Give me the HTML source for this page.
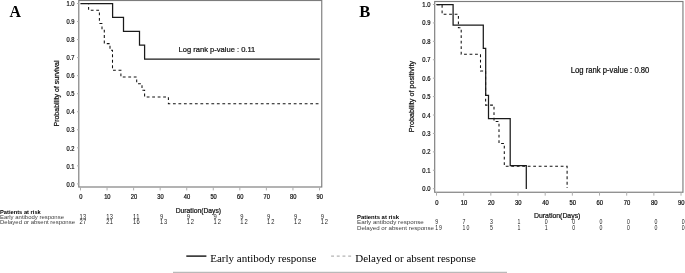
<!DOCTYPE html>
<html lang="en"><head><meta charset="utf-8"><title>Kaplan-Meier curves</title>
<style>
html,body{margin:0;padding:0;background:#fff;}
body{width:685px;height:273px;overflow:hidden;}
svg{display:block;}
.sans{font-family:"Liberation Sans",Arial,Helvetica,sans-serif;fill:#111;stroke:#111;stroke-width:0.22;}
.serif{font-family:"Liberation Serif","Times New Roman",Times,serif;fill:#000;}
.tick{font-size:6.4px;}
.risk{font-size:5.1px;fill:#3c3c3c;stroke:none;}
.num{fill:#222;stroke:none;}
.rh{font-size:5.8px;fill:#000;stroke:none;font-weight:bold;}
.frame{fill:none;stroke:#7c7c7c;stroke-width:1.15;}
.tk{stroke:#aeaeae;stroke-width:1;fill:none;}
.solid{fill:none;stroke:#1a1a1a;stroke-width:1.25;stroke-linejoin:miter;}
.dash{fill:none;stroke:#111;stroke-width:1.05;stroke-dasharray:2.8 2.69;}
</style></head><body>
<svg width="685" height="273" viewBox="0 0 685 273">
<rect x="0" y="0" width="685" height="273" fill="#fff"/>
<g id="panelA">
<text class="serif" font-size="17.7" font-weight="bold" transform="translate(9.4 16.7) scale(0.9 1)">A</text>
<rect class="frame" x="78.8" y="0.5" width="242.95" height="186.5"/>
<path class="tk" d="M77,183.9H78.8M77,165.86H78.8M77,147.82H78.8M77,129.78H78.8M77,111.74H78.8M77,93.7H78.8M77,75.66H78.8M77,57.62H78.8M77,39.58H78.8M77,21.54H78.8M77,3.5H78.8M80.5,187.0V190.4M107.06,187.0V190.4M133.61,187.0V190.4M160.17,187.0V190.4M186.72,187.0V190.4M213.28,187.0V190.4M239.84,187.0V190.4M266.39,187.0V190.4M292.95,187.0V190.4M319.5,187.0V190.4"/>
<text class="sans" font-size="6.4" text-anchor="end" transform="translate(74.5 186.6) scale(0.9 1)">0.0</text>
<text class="sans" font-size="6.4" text-anchor="end" transform="translate(74.5 168.56) scale(0.9 1)">0.1</text>
<text class="sans" font-size="6.4" text-anchor="end" transform="translate(74.5 150.52) scale(0.9 1)">0.2</text>
<text class="sans" font-size="6.4" text-anchor="end" transform="translate(74.5 132.48) scale(0.9 1)">0.3</text>
<text class="sans" font-size="6.4" text-anchor="end" transform="translate(74.5 114.44) scale(0.9 1)">0.4</text>
<text class="sans" font-size="6.4" text-anchor="end" transform="translate(74.5 96.4) scale(0.9 1)">0.5</text>
<text class="sans" font-size="6.4" text-anchor="end" transform="translate(74.5 78.36) scale(0.9 1)">0.6</text>
<text class="sans" font-size="6.4" text-anchor="end" transform="translate(74.5 60.32) scale(0.9 1)">0.7</text>
<text class="sans" font-size="6.4" text-anchor="end" transform="translate(74.5 42.28) scale(0.9 1)">0.8</text>
<text class="sans" font-size="6.4" text-anchor="end" transform="translate(74.5 24.24) scale(0.9 1)">0.9</text>
<text class="sans" font-size="6.4" text-anchor="end" transform="translate(74.5 6.2) scale(0.9 1)">1.0</text>
<text class="sans" font-size="6.4" text-anchor="middle" transform="translate(80.8 199.3) scale(0.9 1)">0</text>
<text class="sans" font-size="6.4" text-anchor="middle" transform="translate(107.36 199.3) scale(0.9 1)">10</text>
<text class="sans" font-size="6.4" text-anchor="middle" transform="translate(133.91 199.3) scale(0.9 1)">20</text>
<text class="sans" font-size="6.4" text-anchor="middle" transform="translate(160.47 199.3) scale(0.9 1)">30</text>
<text class="sans" font-size="6.4" text-anchor="middle" transform="translate(187.02 199.3) scale(0.9 1)">40</text>
<text class="sans" font-size="6.4" text-anchor="middle" transform="translate(213.58 199.3) scale(0.9 1)">50</text>
<text class="sans" font-size="6.4" text-anchor="middle" transform="translate(240.14 199.3) scale(0.9 1)">60</text>
<text class="sans" font-size="6.4" text-anchor="middle" transform="translate(266.69 199.3) scale(0.9 1)">70</text>
<text class="sans" font-size="6.4" text-anchor="middle" transform="translate(293.25 199.3) scale(0.9 1)">80</text>
<text class="sans" font-size="6.4" text-anchor="middle" transform="translate(319.8 199.3) scale(0.9 1)">90</text>
<text class="sans" font-size="6.8" text-anchor="middle" transform="translate(59.1 93.5) rotate(-90) scale(1.03 1)">Probability of survival</text>
<text class="sans" font-size="7.8" transform="translate(178.6 52.3) scale(0.97 1)">Log rank p-value : 0.11</text>
<text class="sans" font-size="7.2" transform="translate(175.7 212.9) scale(0.94 1)">Duration(Days)</text>
<path class="dash" d="M81,3.5H88.6V10.2H99.4V23.5H102V30.2H104.3V43.6H110V50.3H112.5V70.3H120.9V77H136.7V83.7H142V90.3H144.6V97H168.4V103.7H319.8"/>
<path class="solid" d="M80.4,3.6H112.6V17.4H123.5V31.3H139.5V45.1H144.6V59H319.8"/>
<text class="sans rh" x="0" y="213.9" textLength="40.8" lengthAdjust="spacingAndGlyphs">Patients at risk</text>
<text class="sans risk" x="0" y="218.7" textLength="64" lengthAdjust="spacingAndGlyphs">Early antibody response</text>
<text class="sans risk" x="0" y="223.8" textLength="75" lengthAdjust="spacingAndGlyphs">Delayed or absent response</text>
<text class="sans num" font-size="6.8" transform="translate(79.5 219.1) scale(0.85 1)" letter-spacing="0.3">13</text>
<text class="sans num" font-size="6.8" transform="translate(79.5 224) scale(0.85 1)" letter-spacing="0.3">27</text>
<text class="sans num" font-size="6.8" transform="translate(106.3 219.1) scale(0.85 1)" letter-spacing="0.3">13</text>
<text class="sans num" font-size="6.8" transform="translate(106.3 224) scale(0.85 1)" letter-spacing="0.3">21</text>
<text class="sans num" font-size="6.8" transform="translate(133.1 219.1) scale(0.85 1)" letter-spacing="0.3">11</text>
<text class="sans num" font-size="6.8" transform="translate(133.1 224) scale(0.85 1)" letter-spacing="0.3">16</text>
<text class="sans num" font-size="6.8" transform="translate(159.9 219.1) scale(0.85 1)">9</text>
<text class="sans num" font-size="6.8" transform="translate(159.9 224) scale(0.85 1)" letter-spacing="1.1">13</text>
<text class="sans num" font-size="6.8" transform="translate(186.7 219.1) scale(0.85 1)">9</text>
<text class="sans num" font-size="6.8" transform="translate(186.7 224) scale(0.85 1)" letter-spacing="1.1">12</text>
<text class="sans num" font-size="6.8" transform="translate(213.5 219.1) scale(0.85 1)">9</text>
<text class="sans num" font-size="6.8" transform="translate(213.5 224) scale(0.85 1)" letter-spacing="1.1">12</text>
<text class="sans num" font-size="6.8" transform="translate(240.3 219.1) scale(0.85 1)">9</text>
<text class="sans num" font-size="6.8" transform="translate(240.3 224) scale(0.85 1)" letter-spacing="1.1">12</text>
<text class="sans num" font-size="6.8" transform="translate(267.1 219.1) scale(0.85 1)">9</text>
<text class="sans num" font-size="6.8" transform="translate(267.1 224) scale(0.85 1)" letter-spacing="1.1">12</text>
<text class="sans num" font-size="6.8" transform="translate(293.9 219.1) scale(0.85 1)">9</text>
<text class="sans num" font-size="6.8" transform="translate(293.9 224) scale(0.85 1)" letter-spacing="1.1">12</text>
<text class="sans num" font-size="6.8" transform="translate(320.7 219.1) scale(0.85 1)">9</text>
<text class="sans num" font-size="6.8" transform="translate(320.7 224) scale(0.85 1)" letter-spacing="1.1">12</text>
</g>
<g id="panelB">
<text class="serif" font-size="17.6" font-weight="bold" transform="translate(359.3 16.7) scale(0.94 1)">B</text>
<rect class="frame" x="434.7" y="1.5" width="248.25" height="190.75"/>
<path class="tk" d="M432.9,188.7H434.7M432.9,170.28H434.7M432.9,151.86H434.7M432.9,133.44H434.7M432.9,115.02H434.7M432.9,96.6H434.7M432.9,78.18H434.7M432.9,59.76H434.7M432.9,41.34H434.7M432.9,22.92H434.7M432.9,4.5H434.7M436.5,192.25V195.65M463.67,192.25V195.65M490.84,192.25V195.65M518.01,192.25V195.65M545.18,192.25V195.65M572.35,192.25V195.65M599.52,192.25V195.65M626.69,192.25V195.65M653.86,192.25V195.65M681.03,192.25V195.65"/>
<text class="sans" font-size="6.5" text-anchor="end" transform="translate(430.5 191.2) scale(0.9 1)">0.0</text>
<text class="sans" font-size="6.5" text-anchor="end" transform="translate(430.5 172.78) scale(0.9 1)">0.1</text>
<text class="sans" font-size="6.5" text-anchor="end" transform="translate(430.5 154.36) scale(0.9 1)">0.2</text>
<text class="sans" font-size="6.5" text-anchor="end" transform="translate(430.5 135.94) scale(0.9 1)">0.3</text>
<text class="sans" font-size="6.5" text-anchor="end" transform="translate(430.5 117.52) scale(0.9 1)">0.4</text>
<text class="sans" font-size="6.5" text-anchor="end" transform="translate(430.5 99.1) scale(0.9 1)">0.5</text>
<text class="sans" font-size="6.5" text-anchor="end" transform="translate(430.5 80.68) scale(0.9 1)">0.6</text>
<text class="sans" font-size="6.5" text-anchor="end" transform="translate(430.5 62.26) scale(0.9 1)">0.7</text>
<text class="sans" font-size="6.5" text-anchor="end" transform="translate(430.5 43.84) scale(0.9 1)">0.8</text>
<text class="sans" font-size="6.5" text-anchor="end" transform="translate(430.5 25.42) scale(0.9 1)">0.9</text>
<text class="sans" font-size="6.5" text-anchor="end" transform="translate(430.5 7) scale(0.9 1)">1.0</text>
<text class="sans" font-size="6.5" text-anchor="middle" transform="translate(436.8 204.9) scale(0.9 1)">0</text>
<text class="sans" font-size="6.5" text-anchor="middle" transform="translate(463.97 204.9) scale(0.9 1)">10</text>
<text class="sans" font-size="6.5" text-anchor="middle" transform="translate(491.14 204.9) scale(0.9 1)">20</text>
<text class="sans" font-size="6.5" text-anchor="middle" transform="translate(518.31 204.9) scale(0.9 1)">30</text>
<text class="sans" font-size="6.5" text-anchor="middle" transform="translate(545.48 204.9) scale(0.9 1)">40</text>
<text class="sans" font-size="6.5" text-anchor="middle" transform="translate(572.65 204.9) scale(0.9 1)">50</text>
<text class="sans" font-size="6.5" text-anchor="middle" transform="translate(599.82 204.9) scale(0.9 1)">60</text>
<text class="sans" font-size="6.5" text-anchor="middle" transform="translate(626.99 204.9) scale(0.9 1)">70</text>
<text class="sans" font-size="6.5" text-anchor="middle" transform="translate(654.16 204.9) scale(0.9 1)">80</text>
<text class="sans" font-size="6.5" text-anchor="middle" transform="translate(681.33 204.9) scale(0.9 1)">90</text>
<text class="sans" font-size="7.0" text-anchor="middle" transform="translate(413.8 96.6) rotate(-90) scale(1.03 1)">Probability of positivity</text>
<text class="sans" font-size="8.2" transform="translate(570.7 72.9) scale(0.94 1)">Log rank p-value : 0.80</text>
<text class="sans" font-size="7.35" transform="translate(534 218.2) scale(0.94 1)">Duration(Days)</text>
<path class="dash" d="M436.9,4.6H442.1V14.3H458.4V27.8H461.2V54.3H480.5V71H485.6V105.1H494V121.5H499V143.5H504.3V166.3H567.1V188"/>
<path class="solid" d="M436.3,4.6H453.1V25.2H483.3V48.3H485.7V95.3H488.5V118.6H510.2V165.5H526.3V189"/>
<text class="sans rh" x="357" y="219.3" textLength="42" lengthAdjust="spacingAndGlyphs">Patients at risk</text>
<text class="sans risk" x="357" y="224.4" textLength="66.7" lengthAdjust="spacingAndGlyphs">Early antibody response</text>
<text class="sans risk" x="357" y="229.5" textLength="77" lengthAdjust="spacingAndGlyphs">Delayed or absent response</text>
<text class="sans num" font-size="6.5" transform="translate(435.2 224.4) scale(0.8 1)">9</text>
<text class="sans num" font-size="6.5" transform="translate(435.2 229.5) scale(0.8 1)" letter-spacing="1.2">19</text>
<text class="sans num" font-size="6.5" transform="translate(462.6 224.4) scale(0.8 1)">7</text>
<text class="sans num" font-size="6.5" transform="translate(462.6 229.5) scale(0.8 1)" letter-spacing="1.2">10</text>
<text class="sans num" font-size="6.5" transform="translate(490 224.4) scale(0.8 1)">3</text>
<text class="sans num" font-size="6.5" transform="translate(490 229.5) scale(0.8 1)">5</text>
<text class="sans num" font-size="6.5" transform="translate(517.4 224.4) scale(0.8 1)">1</text>
<text class="sans num" font-size="6.5" transform="translate(517.4 229.5) scale(0.8 1)">1</text>
<text class="sans num" font-size="6.5" transform="translate(544.8 224.4) scale(0.8 1)">0</text>
<text class="sans num" font-size="6.5" transform="translate(544.8 229.5) scale(0.8 1)">1</text>
<text class="sans num" font-size="6.5" transform="translate(572.2 224.4) scale(0.8 1)">0</text>
<text class="sans num" font-size="6.5" transform="translate(572.2 229.5) scale(0.8 1)">0</text>
<text class="sans num" font-size="6.5" transform="translate(599.6 224.4) scale(0.8 1)">0</text>
<text class="sans num" font-size="6.5" transform="translate(599.6 229.5) scale(0.8 1)">0</text>
<text class="sans num" font-size="6.5" transform="translate(627 224.4) scale(0.8 1)">0</text>
<text class="sans num" font-size="6.5" transform="translate(627 229.5) scale(0.8 1)">0</text>
<text class="sans num" font-size="6.5" transform="translate(654.4 224.4) scale(0.8 1)">0</text>
<text class="sans num" font-size="6.5" transform="translate(654.4 229.5) scale(0.8 1)">0</text>
<text class="sans num" font-size="6.5" transform="translate(681.8 224.4) scale(0.8 1)">0</text>
<text class="sans num" font-size="6.5" transform="translate(681.8 229.5) scale(0.8 1)">0</text>
</g>
<g id="legend">
<path d="M186.3,256.1H206.4" stroke="#111" stroke-width="1.4" fill="none"/>
<text class="serif" font-size="11.4" x="210.2" y="261.9" textLength="106.3" lengthAdjust="spacingAndGlyphs">Early antibody response</text>
<path d="M331.1,256.1H352" stroke="#808080" stroke-width="0.75" stroke-dasharray="2.9 2.8" fill="none"/>
<text class="serif" font-size="11.4" x="355.2" y="261.9" textLength="120.6" lengthAdjust="spacingAndGlyphs">Delayed or absent response</text>
<path d="M173,272.3H507" stroke="#a8a8a8" stroke-width="1" fill="none"/>
</g>
</svg>
</body></html>
